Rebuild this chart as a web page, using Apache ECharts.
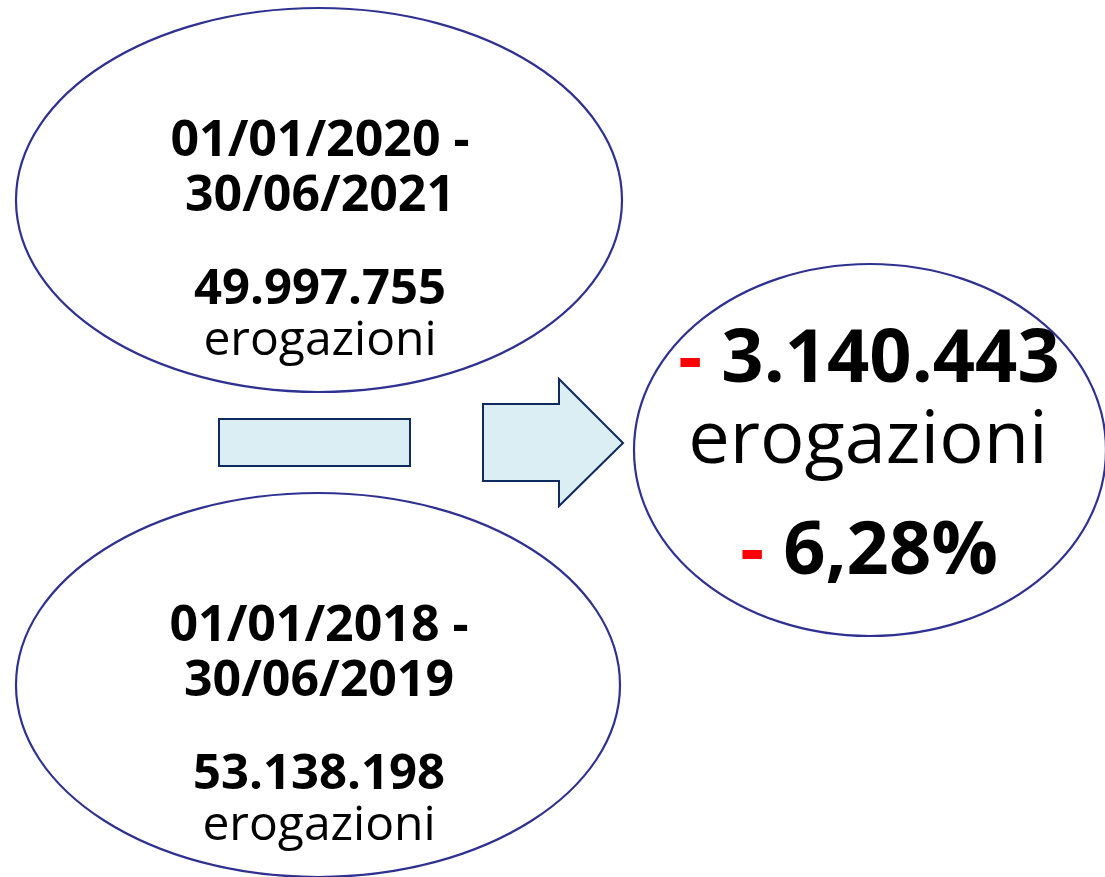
<!DOCTYPE html>
<html>
<head>
<meta charset="utf-8">
<script src="https://cdn.jsdelivr.net/npm/echarts@6/dist/echarts.min.js"></script>
<style>
  html, body { margin: 0; padding: 0; background: #fff; }
  #main { width: 1105px; height: 877px; }
</style>
</head>
<body>
<div id="main"></div>
<script>
// periods compared (top = recent, bottom = previous)
const periodLines = [
  ['01/01/2020 -', '30/06/2021'],
  ['01/01/2018 -', '30/06/2019']
];
const periodCounts = ['49.997.755', '53.138.198'];
const unitLabel = 'erogazioni';
const diffCount = '3.140.443';
const diffPercent = '6,28%';

const FONT = '"Open Sans", "DejaVu Sans", sans-serif';
const ELLIPSE_STROKE = '#2E3192';
const SHAPE_FILL = '#DAEEF3';
const SHAPE_STROKE = '#0F2A5E';

const ellipses = [
  { cx: 319, cy: 200, rx: 303, ry: 192 },
  { cx: 318, cy: 685, rx: 302, ry: 192 }
];

const txt = (text, x, y, size, weight) => ({
  type: 'text',
  style: {
    text, x, y,
    align: 'center', verticalAlign: 'middle',
    fill: '#000',
    font: `${weight} ${size}px ${FONT}`
  }
});

const elements = [];
ellipses.forEach((e, i) => {
  elements.push({
    type: 'ellipse',
    shape: e,
    style: { fill: '#fff', stroke: ELLIPSE_STROKE, lineWidth: 2.2 }
  });
  const top = e.cy - 58;
  elements.push(txt(periodLines[i][0], e.cx + 1, top, 50, 'bold'));
  elements.push(txt(periodLines[i][1], e.cx + 1, top + 55, 50, 'bold'));
  elements.push(txt(periodCounts[i], e.cx + 1, top + 148, 49, 'bold'));
  elements.push(txt(unitLabel, e.cx + 1, top + 199, 48, 'normal'));
});

// minus sign box
elements.push({
  type: 'rect',
  shape: { x: 219, y: 419, width: 191, height: 47 },
  style: { fill: SHAPE_FILL, stroke: SHAPE_STROKE, lineWidth: 2 }
});
// right arrow
elements.push({
  type: 'polygon',
  shape: { points: [[483, 404], [559, 404], [559, 379], [623, 443], [559, 506], [559, 481], [483, 481]] },
  style: { fill: SHAPE_FILL, stroke: SHAPE_STROKE, lineWidth: 2 }
});

// result ellipse
elements.push({
  type: 'ellipse',
  shape: { cx: 870, cy: 450, rx: 236, ry: 186 },
  style: { fill: '#fff', stroke: ELLIPSE_STROKE, lineWidth: 2.2 }
});
const rich = {
  r: { fill: '#FF0000', font: `bold 74px ${FONT}` },
  s: { fill: '#000', font: `bold 74px ${FONT}` },
  b: { fill: '#000', font: `bold 74px ${FONT}` }
};
elements.push({
  type: 'text',
  style: {
    text: `{r|-}{s|\u00a0}{b|${diffCount}}`, x: 869, y: 361,
    align: 'center', verticalAlign: 'middle', rich
  }
});
elements.push(txt(unitLabel, 868, 442, 74, 'normal'));
elements.push({
  type: 'text',
  style: {
    text: `{r|-}{s|\u00a0}{b|${diffPercent}}`, x: 869, y: 553,
    align: 'center', verticalAlign: 'middle', rich
  }
});

const chart = echarts.init(document.getElementById('main'));
chart.setOption({
  backgroundColor: '#fff',
  animation: false,
  graphic: { elements }
});
</script>
</body>
</html>
